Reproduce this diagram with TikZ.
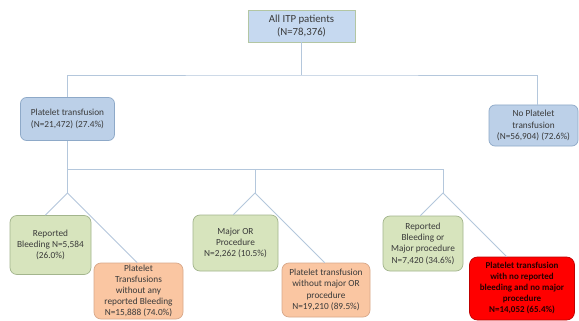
\documentclass[tikz,border=0pt]{standalone}
\usepackage{fontspec}
\setmainfont{Carlito}
\usetikzlibrary{calc}
\definecolor{linec}{HTML}{B4C7DC}
\definecolor{topfill}{HTML}{C6D9F0}
\definecolor{topdraw}{HTML}{B3C6A3}
\definecolor{bluefill}{HTML}{BCD0E8}
\definecolor{bluedraw}{HTML}{8EA9C8}
\definecolor{greenfill}{HTML}{D7E4BD}
\definecolor{greendraw}{HTML}{A3B58D}
\definecolor{orangefill}{HTML}{FAC6A2}
\definecolor{orangedraw}{HTML}{D8A88A}
\definecolor{redfill}{HTML}{FF0000}
\definecolor{reddraw}{HTML}{C00000}
\definecolor{txt}{HTML}{3A3A3A}
\tikzset{
  base/.style={align=center, inner sep=1pt, text=txt, line width=0.7pt},
  topbox/.style={base, rectangle, fill=topfill, draw=topdraw, font=\fontsize{10.8}{13}\selectfont},
  bluebox/.style={base, rounded corners=6pt, fill=bluefill, draw=bluedraw, font=\fontsize{9.3}{11.5}\selectfont},
  greenbox/.style={base, rounded corners=7pt, fill=greenfill, draw=greendraw, font=\fontsize{9.3}{11.3}\selectfont},
  orangebox/.style={base, rounded corners=7pt, fill=orangefill, draw=orangedraw, font=\fontsize{9.3}{11.2}\selectfont},
  redbox/.style={base, rounded corners=8pt, fill=redfill, draw=reddraw, text=black!85!red, font=\fontsize{9}{11}\selectfont\bfseries},
  conn/.style={draw=linec, line width=0.8pt},
}
\begin{document}
\begin{tikzpicture}[x=1pt,y=-1pt]
\useasboundingbox (0,0) rectangle (579,321);
\fill[white] (0,0) rectangle (579,321);

\node[topbox, minimum width=107pt, minimum height=32pt] (top) at (301.5,26) {All ITP patients\\(N=78,376)};
\node[bluebox, minimum width=94pt, minimum height=43pt] (plat) at (67.5,119) {Platelet transfusion\\(N=21,472) (27.4\%)};
\node[bluebox, minimum width=89pt, minimum height=41pt] (noplat) at (533.5,125.5) {No Platelet\\transfusion\\(N=56,904) (72.6\%)};

\node[greenbox, minimum width=81pt, minimum height=59pt] (g1) at (50.5,245) {Reported\\Bleeding N=5,584\\(26.0\%)};
\node[orangebox, minimum width=89pt, minimum height=56pt] (o1) at (138.5,291) {Platelet\\Transfusions\\without any\\reported Bleeding\\N=15,888 (74.0\%)};
\node[greenbox, minimum width=85pt, minimum height=56pt] (g2) at (235.5,243) {Major OR\\Procedure\\N=2,262 (10.5\%)};
\node[orangebox, minimum width=88pt, minimum height=54pt] (o2) at (326,290) {Platelet transfusion\\without major OR\\procedure\\N=19,210 (89.5\%)};
\node[greenbox, minimum width=80pt, minimum height=55pt] (g3) at (423,243.5) {Reported\\Bleeding or\\Major procedure\\N=7,420 (34.6\%)};
\node[redbox, minimum width=105pt, minimum height=63pt] (r) at (522,288.5) {Platelet transfusion\\with no reported\\bleeding and no major\\procedure\\N=14,052 (65.4\%)};

% first level connectors
\coordinate (j1) at (301.5,75);
\coordinate (nj) at ($(noplat.north)+(3.5,0)$);
\draw[conn] (top.south) -- (j1);
\draw[conn] (plat.north) |- (j1) -| (nj);

% second level connectors
\coordinate (j2) at (67.5,169);
\coordinate (aL) at (67.5,193);
\coordinate (aM) at (255,193);
\coordinate (aR) at (443,193);
\draw[conn] (plat.south) -- (aL);
\draw[conn] (j2) -| (aR);
\draw[conn] (aM) |- (j2);

\draw[conn] let \p1=(aL), \p2=(g1.north) in (aL) -- (\x1+\y2-\y1,\y2);
\draw[conn] let \p1=(aL), \p2=(o1.north) in (aL) -- (\x1-\y2+\y1,\y2);
\draw[conn] let \p1=(aM), \p2=(g2.north) in (aM) -- (\x1+\y2-\y1,\y2);
\draw[conn] let \p1=(aM), \p2=(o2.north) in (aM) -- (\x1-\y2+\y1,\y2);
\draw[conn] let \p1=(aR), \p2=(g3.north) in (aR) -- (\x1+\y2-\y1,\y2);
\draw[conn] let \p1=(aR), \p2=(r.north) in (aR) -- (\x1-\y2+\y1,\y2);
\end{tikzpicture}
\end{document}
